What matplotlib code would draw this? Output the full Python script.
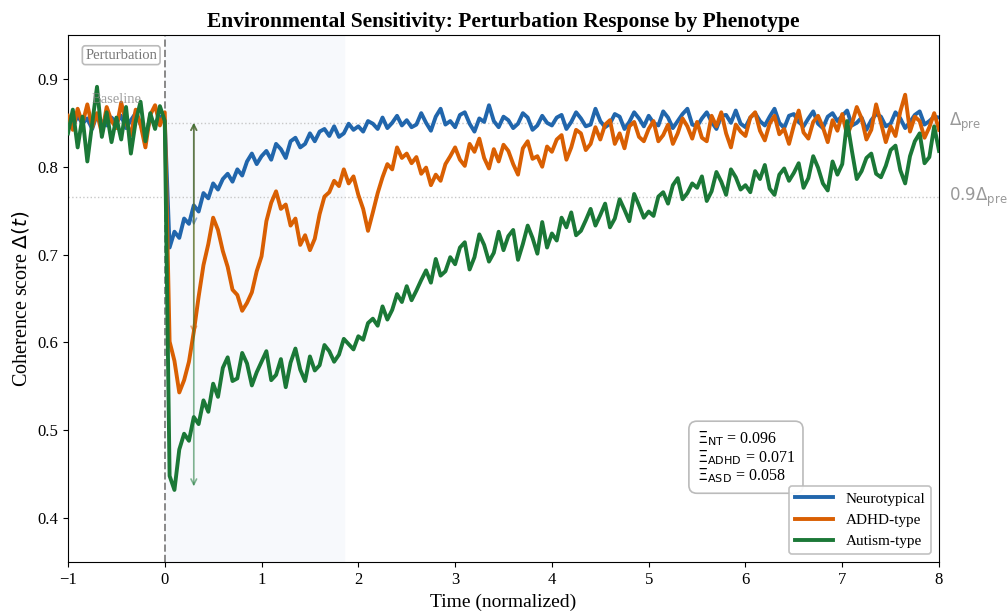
import numpy as np
import matplotlib
matplotlib.use("Agg")
import matplotlib.pyplot as plt

plt.rcParams['font.family'] = ['Liberation Serif', 'DejaVu Serif']
plt.rcParams['mathtext.fontset'] = 'dejavusans'

# ---------------- data ----------------
t_start, t_end, n_pts = -1.0, 8.0, 181

nt_values = [
    0.852, 0.846, 0.858, 0.849, 0.855, 0.843, 0.860, 0.851, 0.847, 0.856,
    0.850, 0.858, 0.844, 0.853, 0.861, 0.848, 0.835, 0.854, 0.849, 0.857,
    0.852, 0.708, 0.726, 0.719, 0.741, 0.735, 0.756, 0.749, 0.770, 0.764,
    0.781, 0.774, 0.786, 0.792, 0.783, 0.797, 0.790, 0.806, 0.815, 0.803,
    0.812, 0.818, 0.808, 0.826, 0.820, 0.810, 0.829, 0.833, 0.822, 0.826,
    0.838, 0.829, 0.840, 0.843, 0.835, 0.846, 0.834, 0.838, 0.849, 0.842,
    0.846, 0.840, 0.852, 0.849, 0.843, 0.856, 0.844, 0.850, 0.858, 0.847,
    0.853, 0.845, 0.848, 0.861, 0.850, 0.841, 0.857, 0.866, 0.848, 0.852,
    0.845, 0.859, 0.862, 0.849, 0.840, 0.855, 0.851, 0.870, 0.852, 0.845,
    0.857, 0.853, 0.844, 0.849, 0.861, 0.856, 0.842, 0.847, 0.858, 0.850,
    0.847, 0.856, 0.859, 0.843, 0.851, 0.862, 0.855, 0.846, 0.848, 0.866,
    0.852, 0.845, 0.849, 0.860, 0.857, 0.843, 0.851, 0.862, 0.855, 0.846,
    0.858, 0.850, 0.847, 0.863, 0.856, 0.844, 0.852, 0.860, 0.866, 0.848,
    0.846, 0.855, 0.862, 0.851, 0.843, 0.858, 0.859, 0.850, 0.864, 0.849,
    0.845, 0.856, 0.861, 0.852, 0.847, 0.857, 0.866, 0.850, 0.844, 0.858,
    0.860, 0.851, 0.846, 0.855, 0.863, 0.849, 0.844, 0.857, 0.861, 0.852,
    0.858, 0.864, 0.847, 0.850, 0.856, 0.842, 0.853, 0.860, 0.857, 0.846,
    0.849, 0.862, 0.855, 0.844, 0.851, 0.859, 0.863, 0.848, 0.852, 0.857,
    0.856,
]

adhd_values = [
    0.858, 0.842, 0.866, 0.849, 0.871, 0.845, 0.861, 0.838, 0.868, 0.852,
    0.844, 0.873, 0.851, 0.836, 0.865, 0.848, 0.822, 0.859, 0.870, 0.847,
    0.862, 0.601, 0.579, 0.543, 0.557, 0.578, 0.612, 0.652, 0.688, 0.712,
    0.742, 0.728, 0.704, 0.686, 0.660, 0.654, 0.636, 0.645, 0.657, 0.681,
    0.698, 0.738, 0.759, 0.772, 0.752, 0.757, 0.733, 0.741, 0.711, 0.722,
    0.705, 0.718, 0.746, 0.766, 0.771, 0.784, 0.778, 0.797, 0.781, 0.789,
    0.768, 0.752, 0.727, 0.748, 0.770, 0.788, 0.803, 0.797, 0.822, 0.810,
    0.815, 0.804, 0.811, 0.792, 0.799, 0.779, 0.791, 0.784, 0.803, 0.812,
    0.822, 0.808, 0.801, 0.826, 0.817, 0.832, 0.810, 0.798, 0.820, 0.806,
    0.825, 0.818, 0.803, 0.791, 0.821, 0.829, 0.809, 0.812, 0.800, 0.823,
    0.817, 0.831, 0.836, 0.808, 0.822, 0.842, 0.838, 0.819, 0.826, 0.845,
    0.831, 0.848, 0.853, 0.826, 0.838, 0.821, 0.846, 0.851, 0.834, 0.829,
    0.843, 0.852, 0.829, 0.836, 0.848, 0.826, 0.838, 0.855, 0.846, 0.832,
    0.851, 0.833, 0.829, 0.858, 0.846, 0.862, 0.838, 0.822, 0.848, 0.840,
    0.835, 0.856, 0.862, 0.841, 0.830, 0.849, 0.858, 0.837, 0.843, 0.826,
    0.847, 0.864, 0.839, 0.832, 0.851, 0.858, 0.845, 0.828, 0.853, 0.841,
    0.860, 0.836, 0.849, 0.868, 0.855, 0.831, 0.842, 0.871, 0.850, 0.828,
    0.846, 0.835, 0.863, 0.882, 0.840, 0.857, 0.852, 0.833, 0.845, 0.861,
    0.842,
]

asd_values = [
    0.838, 0.865, 0.822, 0.857, 0.806, 0.849, 0.891, 0.834, 0.862, 0.828,
    0.856, 0.831, 0.868, 0.815, 0.852, 0.874, 0.829, 0.861, 0.843, 0.869,
    0.852, 0.448, 0.432, 0.478, 0.496, 0.488, 0.515, 0.507, 0.534, 0.521,
    0.553, 0.538, 0.571, 0.583, 0.556, 0.559, 0.588, 0.576, 0.551, 0.566,
    0.578, 0.590, 0.557, 0.563, 0.581, 0.549, 0.577, 0.593, 0.569, 0.556,
    0.584, 0.568, 0.574, 0.597, 0.590, 0.578, 0.586, 0.604, 0.598, 0.592,
    0.607, 0.603, 0.622, 0.627, 0.619, 0.641, 0.626, 0.637, 0.655, 0.646,
    0.664, 0.648, 0.659, 0.671, 0.682, 0.668, 0.695, 0.676, 0.681, 0.697,
    0.689, 0.708, 0.714, 0.683, 0.697, 0.723, 0.711, 0.692, 0.702, 0.726,
    0.705, 0.721, 0.728, 0.694, 0.712, 0.733, 0.719, 0.701, 0.737, 0.708,
    0.724, 0.716, 0.742, 0.731, 0.748, 0.722, 0.727, 0.739, 0.752, 0.733,
    0.745, 0.758, 0.731, 0.741, 0.763, 0.751, 0.738, 0.769, 0.756, 0.742,
    0.749, 0.744, 0.766, 0.771, 0.758, 0.779, 0.787, 0.763, 0.770, 0.781,
    0.776, 0.789, 0.761, 0.772, 0.794, 0.783, 0.768, 0.797, 0.788, 0.774,
    0.779, 0.771, 0.795, 0.786, 0.802, 0.775, 0.768, 0.791, 0.798, 0.784,
    0.793, 0.804, 0.776, 0.787, 0.812, 0.799, 0.781, 0.773, 0.806, 0.791,
    0.803, 0.852, 0.818, 0.786, 0.795, 0.810, 0.815, 0.792, 0.788, 0.801,
    0.819, 0.824, 0.796, 0.781, 0.812, 0.829, 0.838, 0.804, 0.811, 0.846,
    0.818,
]

series_labels = ['Neurotypical', 'ADHD-type', 'Autism-type']
series_colors = ['#2166ac', '#d95f02', '#1b7837']
xi_names = ['NT', 'ADHD', 'ASD']
xi_values = [0.096, 0.071, 0.058]
delta_pre = 0.85
arrow_floor = [0.733, 0.610, 0.436]
arrow_x = 0.3
window_end = 1.85

# ---------------- plot ----------------
t = np.linspace(t_start, t_end, n_pts)
fig = plt.figure(figsize=(10.07, 6.16), dpi=100)
ax = fig.add_axes([0.0675, 0.0877, 0.865, 0.8555])

ax.axvspan(0, window_end, color='#f7f9fc', zorder=0)
ax.axhline(delta_pre, color='#c8c8c8', ls=':', lw=1.0, zorder=1)
ax.axhline(0.9 * delta_pre, color='#c8c8c8', ls=':', lw=1.0, zorder=1)
ax.axvline(0, color='#888888', ls='--', lw=1.4, zorder=1)

for vals, lab, col in zip([nt_values, adhd_values, asd_values], series_labels, series_colors):
    ax.plot(t, vals, color=col, lw=2.8, label=lab, zorder=3)

for fl, col in zip(arrow_floor, series_colors):
    ax.annotate('', xy=(arrow_x, delta_pre), xytext=(arrow_x, fl),
                arrowprops=dict(arrowstyle='<->', color=col, alpha=0.55, lw=1.2,
                                shrinkA=0, shrinkB=0), zorder=4)

ax.set_xlim(-1, 8)
ax.set_ylim(0.35, 0.95)
ax.set_xticks(range(-1, 9))
ax.set_yticks([0.4, 0.5, 0.6, 0.7, 0.8, 0.9])
ax.tick_params(labelsize=12)

ax.set_title('Environmental Sensitivity: Perturbation Response by Phenotype',
             fontsize=15.5, fontweight='bold')
ax.set_xlabel('Time (normalized)', fontsize=14)
ax.set_ylabel(r'Coherence score $\Delta(t)$', fontsize=14.5)

ax.text(-0.45, 0.927, 'Perturbation', fontsize=10.5, color='#777777', ha='center', va='center',
        bbox=dict(boxstyle='round,pad=0.2', fc='white', ec='#bbbbbb', lw=1.2), zorder=5)
ax.text(-0.5, 0.876, 'Baseline', fontsize=10.5, color='#888888', alpha=0.8,
        ha='center', va='center', zorder=5)

ax.text(8.1, delta_pre, r'$\Delta_{\mathrm{pre}}$', fontsize=12, color='#999999',
        ha='left', va='center', clip_on=False)
ax.text(8.1, 0.9 * delta_pre, r'$0.9\Delta_{\mathrm{pre}}$', fontsize=12, color='#999999',
        ha='left', va='center', clip_on=False)

xi_text = '\n'.join([r'$\Xi_{\mathrm{%s}}$ = %.3f' % (n, v) for n, v in zip(xi_names, xi_values)])
ax.text(0.722, 0.252, xi_text, transform=ax.transAxes, fontsize=11.5, va='top', ha='left',
        linespacing=1.0,
        bbox=dict(boxstyle='round,pad=0.5', fc='white', ec='#bbbbbb', lw=1.2), zorder=5)

leg = ax.legend(loc='lower right', fontsize=11, framealpha=0.9, edgecolor='#bbbbbb',
                fancybox=True, handlelength=2.5)
leg.get_frame().set_linewidth(1.2)
leg.set_zorder(6)

fig.savefig('out.png', dpi=100)
